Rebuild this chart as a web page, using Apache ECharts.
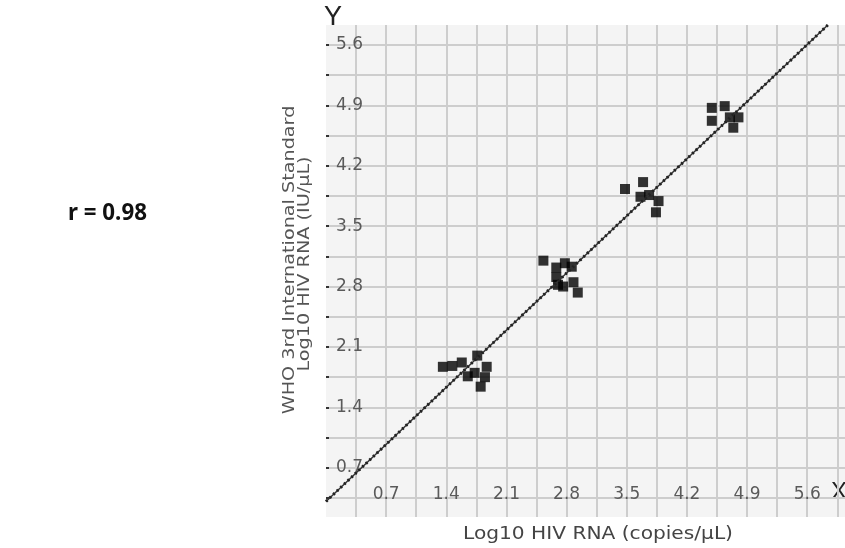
<!DOCTYPE html>
<html>
<head>
<meta charset="utf-8">
<script src="https://cdn.jsdelivr.net/npm/echarts@6/dist/echarts.min.js"></script>
<style>
  html, body { margin: 0; padding: 0; background: #fff; }
  #chart { width: 845px; height: 548px; }
</style>
</head>
<body>
<div id="chart"></div>
<script>
// tick positions (gridlines every 0.35, labels every 0.7)
const xTicks = [0.35, 0.7, 1.05, 1.4, 1.75, 2.1, 2.45, 2.8, 3.15, 3.5, 3.85, 4.2, 4.55, 4.9, 5.25, 5.6, 5.95];
const yTicks = [0.35, 0.7, 1.05, 1.4, 1.75, 2.1, 2.45, 2.8, 3.15, 3.5, 3.85, 4.2, 4.55, 4.9, 5.25, 5.6];
const tickLabels = [0.7, 1.4, 2.1, 2.8, 3.5, 4.2, 4.9, 5.6];

const xVals = [1.36, 1.47, 1.58, 1.76, 1.87, 1.73, 1.65, 1.85, 1.80,
               2.53, 2.68, 2.78, 2.86, 2.68, 2.70, 2.88, 2.76, 2.93,
               3.48, 3.69, 3.66, 3.76, 3.87, 3.84,
               4.49, 4.64, 4.49, 4.70, 4.80, 4.74];
const yVals = [1.87, 1.88, 1.92, 2.00, 1.87, 1.80, 1.76, 1.75, 1.64,
               3.10, 3.02, 3.07, 3.03, 2.91, 2.82, 2.85, 2.80, 2.73,
               3.93, 4.01, 3.84, 3.86, 3.79, 3.66,
               4.87, 4.89, 4.72, 4.76, 4.76, 4.64];

// fitted line end points
const lineX = [0, 5.84];
const lineY = [0.31, 5.83];

const points = xVals.map((x, i) => [x, yVals[i]]);
const linePts = lineX.map((x, i) => [x, lineY[i]]);

const chart = echarts.init(document.getElementById('chart'));
const tickFont = { color: '#5a5a5a', fontSize: 17, fontFamily: 'DejaVu Sans' };

chart.setOption({
  animation: false,
  grid: { left: 326, right: 0, top: 25, bottom: 31, show: true, backgroundColor: '#f4f4f4', borderWidth: 0 },
  xAxis: {
    type: 'value', min: 0, max: 6.04,
    axisLine: { show: false },
    axisTick: { show: false, customValues: xTicks },
    axisLabel: { inside: true, margin: 14, customValues: tickLabels, ...tickFont },
    splitLine: { show: true, lineStyle: { color: '#cdcdcd', width: 2 } }
  },
  yAxis: {
    type: 'value', min: 0.13, max: 5.83,
    axisLine: { show: false },
    axisTick: { show: true, inside: true, length: 3, customValues: yTicks, lineStyle: { color: '#333', width: 2 } },
    axisLabel: { inside: true, margin: 10, customValues: tickLabels, ...tickFont },
    splitLine: { show: true, lineStyle: { color: '#cdcdcd', width: 2 } }
  },
  graphic: [
    { type: 'text', x: 68, y: 213, scaleX: 0.93, style: { text: 'r = 0.98', font: 'bold 24px "Noto Sans"', fill: '#111', verticalAlign: 'middle' } },
    { type: 'text', x: 333, y: 18, style: { text: 'Y', font: '27px "Liberation Sans"', fill: '#222', align: 'center', verticalAlign: 'middle' } },
    { type: 'text', x: 839, y: 492, style: { text: 'X', font: '24px "Liberation Sans"', fill: '#222', align: 'center', verticalAlign: 'middle' } },
    { type: 'text', x: 598, y: 534, scaleX: 1.12, style: { text: 'Log10 HIV RNA (copies/μL)', font: '18px "DejaVu Sans"', fill: '#444', align: 'center', verticalAlign: 'middle' } },
    { type: 'text', x: 290, y: 260, rotation: Math.PI / 2, scaleX: 1.28, style: { text: 'WHO 3rd International Standard', font: '15px "DejaVu Sans"', fill: '#555', align: 'center', verticalAlign: 'middle' } },
    { type: 'text', x: 305, y: 264, rotation: Math.PI / 2, scaleX: 1.28, style: { text: 'Log10 HIV RNA (IU/μL)', font: '15px "DejaVu Sans"', fill: '#555', align: 'center', verticalAlign: 'middle' } }
  ],
  series: [
    {
      type: 'line', data: linePts, symbol: 'none', silent: true,
      lineStyle: { color: '#333', width: 1.5 }
    },
    {
      type: 'line', data: linePts, symbol: 'none', silent: true,
      lineStyle: { color: '#222', width: 3, type: [2, 3] }
    },
    {
      type: 'scatter', data: points, symbol: 'rect', symbolSize: 10,
      itemStyle: { color: '#000' }
    }
  ]
});
</script>
</body>
</html>
